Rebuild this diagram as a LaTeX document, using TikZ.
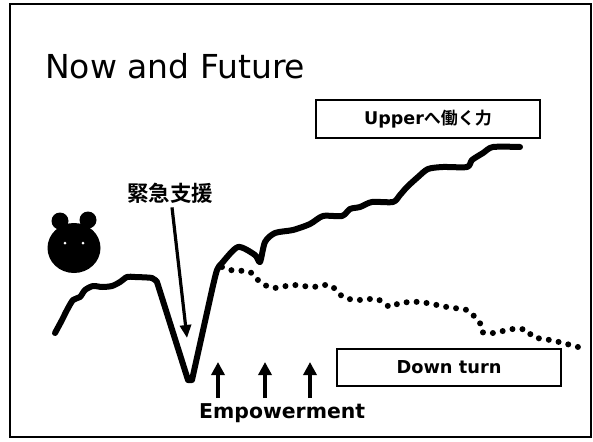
\documentclass[tikz,border=0pt]{standalone}
\usepackage{fontspec}
\setmainfont{DejaVu Sans}
\newfontfamily\jpfont[BoldFont={Noto Sans CJK JP Bold}]{Noto Sans CJK JP}
\usetikzlibrary{arrows.meta}

\tikzset{
  trend/.style={line width=6pt, line cap=round, line join=round},
  fading/.style={line width=6pt, line cap=round, dash pattern=on 0pt off 10pt},
  labelbox/.style={draw, line width=1.8pt, minimum width=224pt, inner sep=0pt},
  push/.style={line width=4.2pt, -{Triangle[width=13pt,length=13pt]}},
}

\begin{document}
\begin{tikzpicture}[x=1pt, y=-1pt]
      \useasboundingbox (0,0) rectangle (593,441);
      % slide frame
       \draw [line width=2.2pt] (10,4) rectangle (591,437);

       \node[anchor=base west, inner sep=0pt] (title) at (45,79)
            {\fontsize{33}{36}\selectfont Now and Future};

      % the little bear
       \fill (60,221) circle [radius=8.5];
       \fill (88,220) circle [radius=8.5];
       \fill (74,248) ellipse [x radius=26.5, y radius=25];
       \fill [white] (65,243) circle (1.5);
       \fill [white] (83,243) circle (1.5);

      % solid curve: dip and recovery
       \draw [trend] plot[smooth, tension=0.45] coordinates {
            (55,333) (62,320) (67,310) (73,300) (80,297) (85,290) (93,286)
            (102,287) (112,286) (120,282) (127,277) (135,277) (152,278) (157,282)}
            -- (188,380) -- (192,380) -- (212,290);
       \draw [trend] plot[smooth, tension=0.45] coordinates {
            (212,290) (217,270) (222,263) (238,247) (255,255) (260,262)
            (265,242) (275,233) (293,230) (310,224) (323,216) (342,216)
            (350,209) (360,207) (372,202) (393,202) (400,195) (407,187)
            (418,177) (428,169) (443,167) (467,167) (472,160) (483,153)
            (493,147) (520,147)};

      % dotted branch going down
       \draw [fading] plot[smooth, tension=0.45] coordinates {
            (222,267) (230,270) (250,272) (260,282) (273,288) (293,285)
            (313,287) (330,285) (343,297) (357,300) (377,299) (390,307)
            (400,303) (420,302) (447,307) (467,310) (473,315) (480,323)
            (482,332) (493,333) (513,329) (527,330) (533,337) (550,340)
            (563,343) (578,347)};

      % labels
       \node[labelbox, minimum height=38pt] (upper) at (428,119)
            {\bfseries\fontsize{17.5}{20}\selectfont Upper{\jpfont\fontsize{17}{20}\selectfont へ働く力}};
       \node[labelbox, minimum height=37pt] (down) at (449,367.5)
            {\bfseries\fontsize{17.8}{20}\selectfont Down turn};

       \node[inner sep=0pt] (help) at (170,193)
            {\jpfont\bfseries\fontsize{21.5}{24}\selectfont 緊急支援};
       \coordinate (dip) at (187,338);
       \draw [line width=3.2pt, -{Triangle[width=11pt,length=13pt]}]
            (help.south) ++(2,4) coordinate (helptail) (helptail) -- (dip);

       \node[anchor=base west, inner sep=0pt] (emp) at (199,418)
            {\bfseries\fontsize{20.4}{24}\selectfont Empowerment};
       \foreach \x [count=\i] in {218,265,310} {
           \coordinate (foot\i) at (\x,398);
           \coordinate (tip\i) at (\x,362);
           \draw [push] (foot\i) -- (tip\i);
       }
\end{tikzpicture}
\end{document}
